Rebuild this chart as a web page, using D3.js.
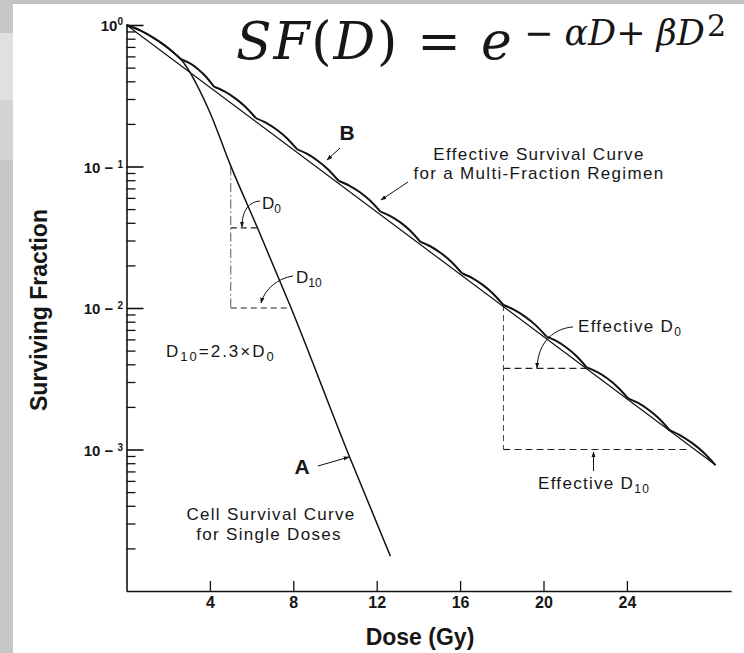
<!DOCTYPE html>
<html>
<head>
<meta charset="utf-8">
<script src="https://cdn.jsdelivr.net/npm/d3@7"></script>
<style>
    html, body { margin: 0; padding: 0; background: #fff; }
    svg { display: block; }
    text { font-family: "Liberation Sans", Arial, sans-serif; fill: #161616; }
</style>
</head>
<body>
<script>
// ! DATA ! //
// curve A: single doses (dose in Gy, surviving fraction)
const doseA = [0, 0.5, 1, 1.5, 2, 2.61, 3.95, 5.0, 6.29, 7.87, 10.7, 12.66];
const sfA = [1, 0.942, 0.859, 0.771, 0.682, 0.573, 0.251, 0.101, 0.0366, 0.0102, 0.000885, 0.000176];

// curve B: ends of each fraction in the multi-fraction regimen
const doseB = [0, 2.61, 4.2, 6.2, 8.19, 10.18, 12.18, 14.09, 16.09, 18.08, 20.15, 22.07, 24.06, 26.05, 28.25];
const sfB = [1, 0.573, 0.366, 0.22, 0.132, 0.079, 0.048, 0.0294, 0.0176, 0.0105, 0.00627, 0.00381, 0.0023, 0.00137, 0.000776];

// shoulder of one fraction: position inside the fraction and lift above the chord (decades)
const shoulderPos = [0, 0.25, 0.5, 0.75, 1];
const shoulderLift = [0, 0.022, 0.03, 0.024, 0];

// D0 / D10 construction lines
const singleGuideDose = [5.0, 6.29, 7.87];
const singleGuideSF = [0.1, 0.0368, 0.01];
const multiGuideDose = [18.08, 22.07, 27.0];
const multiGuideSF = [0.0105, 0.00375, 0.001];

// ticks
const doseTicks = [4, 8, 12, 16, 20, 24];
const decadeTicks = [1, 0.1, 0.01, 0.001];
const decadeExp = ["0", "1", "2", "3"];
const minorMantissa = [2, 3, 4, 5, 6, 7, 8, 9];

// ! LAYOUT ! //
const W = 744, H = 653;
const x = d3.scaleLinear().domain([0, 29]).range([126.5, 126.5 + 29 * 20.85]);
const y = d3.scaleLog().domain([1e-4, 1]).range([591, 25]);

const svg = d3.select("body").append("svg").attr("width", W).attr("height", H);

// ^ page frame (grey scan border) ^ //
svg.append("rect").attr("width", W).attr("height", H).attr("fill", "#fff");
svg.append("rect").attr("x", 0).attr("y", 0).attr("width", W).attr("height", 4).attr("fill", "#c2c2c2");
svg.append("rect").attr("x", 0).attr("y", 0).attr("width", 13).attr("height", H).attr("fill", "#c6c6c6");
svg.append("rect").attr("x", 0).attr("y", 33).attr("width", 13).attr("height", 67).attr("fill", "#e0e0e0");
svg.append("rect").attr("x", 0).attr("y", 100).attr("width", 13).attr("height", 60).attr("fill", "#d4d4d4");

const defs = svg.append("defs");
defs.append("marker")
    .attr("id", "ah")
    .attr("viewBox", "0 0 10 10")
    .attr("refX", 9).attr("refY", 5)
    .attr("markerWidth", 6).attr("markerHeight", 6)
    .attr("orient", "auto")
    .append("path").attr("d", "M0,1.5L10,5L0,8.5Z").attr("fill", "#111");

// ^ X AXIS ^ //
const xAxis = svg.append("g")
    .attr("transform", `translate(0,${y(1e-4)})`)
    .call(d3.axisBottom(x).tickValues(doseTicks).tickSizeInner(-10).tickSizeOuter(0).tickPadding(6));
xAxis.select(".domain").attr("stroke", "#111").attr("stroke-width", 1.7);
xAxis.selectAll(".tick line").attr("stroke", "#111").attr("stroke-width", 1.3);
xAxis.selectAll(".tick text")
    .style("font-family", "'Liberation Sans', Arial, sans-serif")
    .style("font-size", "16px").style("font-weight", "bold").attr("fill", "#161616");

// ^ Y AXIS ^ //
const minorValues = [];
decadeTicks.forEach((dec) => minorMantissa.forEach((m) => minorValues.push(dec * m / 10)));
const yMinor = svg.append("g")
    .attr("transform", `translate(${x(0)},0)`)
    .call(d3.axisLeft(y).tickValues(minorValues).tickSizeInner(-9).tickSizeOuter(0).tickFormat(() => ""));
yMinor.select(".domain").attr("stroke", "#111").attr("stroke-width", 1.6);
yMinor.selectAll(".tick line").attr("stroke", "#111").attr("stroke-width", 1.3);

const yMajor = svg.append("g")
    .attr("transform", `translate(${x(0)},0)`)
    .call(d3.axisLeft(y).tickValues(decadeTicks).tickSizeInner(-17).tickSizeOuter(0).tickFormat(() => ""));
yMajor.select(".domain").remove();
yMajor.selectAll(".tick line").attr("stroke", "#111").attr("stroke-width", 1.6);

decadeTicks.forEach((v, i) => {
    const t = svg.append("text")
        .attr("x", 123).attr("y", y(v) + 6)
        .attr("text-anchor", "end")
        .style("font-size", "15px").style("font-weight", "bold");
    t.append("tspan").text("10");
    if (decadeExp[i] === "0") {
        t.append("tspan").attr("dy", -6).style("font-size", "10px").text("0");
    } else {
        t.append("tspan").text(" − ");
        t.append("tspan").attr("dy", -5).style("font-size", "10px").text(decadeExp[i]);
    }
});

// ^ AXIS TITLES ^ //
svg.append("text")
    .attr("transform", "translate(47,310) rotate(-90)")
    .attr("text-anchor", "middle")
    .style("font-size", "23px").style("font-weight", "bold")
    .text("Surviving Fraction");
svg.append("text")
    .attr("x", 420).attr("y", 645)
    .attr("text-anchor", "middle")
    .style("font-size", "23px").style("font-weight", "bold")
    .text("Dose (Gy)");

// ^ CURVES ^ //
const line = d3.line().x((d) => x(d[0])).y((d) => y(d[1]));

// guides first so curves sit on top
const guide = svg.append("g").attr("fill", "none");
guide.append("path")
    .attr("d", line([[singleGuideDose[0], singleGuideSF[0]], [singleGuideDose[0], singleGuideSF[2]]]))
    .attr("stroke", "#555").attr("stroke-width", 1).attr("stroke-dasharray", "9,3,1.5,3");
guide.append("path")
    .attr("d", line([[singleGuideDose[0], singleGuideSF[1]], [singleGuideDose[1], singleGuideSF[1]]]))
    .attr("stroke", "#222").attr("stroke-width", 1.2).attr("stroke-dasharray", "6,4");
guide.append("path")
    .attr("d", line([[singleGuideDose[0], singleGuideSF[2]], [singleGuideDose[2], singleGuideSF[2]]]))
    .attr("stroke", "#222").attr("stroke-width", 1.2).attr("stroke-dasharray", "6,4");
guide.append("path")
    .attr("d", line([[multiGuideDose[0], multiGuideSF[0]], [multiGuideDose[0], multiGuideSF[2]]]))
    .attr("stroke", "#444").attr("stroke-width", 1).attr("stroke-dasharray", "6,4");
guide.append("path")
    .attr("d", line([[multiGuideDose[0], multiGuideSF[1]], [multiGuideDose[1], multiGuideSF[1]]]))
    .attr("stroke", "#222").attr("stroke-width", 1.2).attr("stroke-dasharray", "7,4");
guide.append("path")
    .attr("d", line([[multiGuideDose[0], multiGuideSF[2]], [multiGuideDose[2], multiGuideSF[2]]]))
    .attr("stroke", "#222").attr("stroke-width", 1.2).attr("stroke-dasharray", "7,4");

// curve A
svg.append("path")
    .attr("d", d3.line().x((d) => x(d[0])).y((d) => y(d[1])).curve(d3.curveMonotoneX)(doseA.map((d, i) => [d, sfA[i]])))
    .attr("fill", "none").attr("stroke", "#111").attr("stroke-width", 1.5);

// curve B: straight effective line
svg.append("path")
    .attr("d", line([[doseB[0], sfB[0]], [doseB[doseB.length - 1], sfB[sfB.length - 1]]]))
    .attr("fill", "none").attr("stroke", "#111").attr("stroke-width", 1.2);

// curve B: one shoulder per fraction
const scallop = d3.line().x((d) => x(d[0])).y((d) => y(d[1])).curve(d3.curveNatural);
for (let i = 0; i < doseB.length - 1; i++) {
    const d0 = doseB[i], d1 = doseB[i + 1];
    const l0 = Math.log10(sfB[i]), l1 = Math.log10(sfB[i + 1]);
    const pts = shoulderPos.map((t, k) => [d0 + t * (d1 - d0), Math.pow(10, l0 + t * (l1 - l0) + shoulderLift[k])]);
    svg.append("path").attr("d", scallop(pts))
        .attr("fill", "none").attr("stroke", "#111").attr("stroke-width", 2);
}

// ^ ANNOTATIONS ^ //
const label = (px, py, parts, opts = {}) => {
    const subSize = opts.sub || 12;
    const t = svg.append("text")
        .attr("x", px).attr("y", py)
        .attr("text-anchor", opts.anchor || "start")
        .style("font-size", (opts.size || 17) + "px")
        .style("letter-spacing", (opts.spacing === undefined ? 1.3 : opts.spacing) + "px")
        .style("font-weight", opts.bold ? "bold" : "normal");
    let shift = 0;
    parts.forEach(([txt, kind]) => {
        const s = t.append("tspan").text(txt);
        const want = kind === "sub" ? 4 : 0;
        if (want !== shift) { s.attr("dy", want - shift); shift = want; }
        if (kind === "sub") s.style("font-size", subSize + "px");
    });
    return t;
};
const arrow = (d, w = 1) => svg.append("path").attr("d", d)
    .attr("fill", "none").attr("stroke", "#111").attr("stroke-width", w).attr("marker-end", "url(#ah)");

label(347, 140, [["B"]], { anchor: "middle", size: 21, bold: true, spacing: 0 });
arrow("M340,148L327,160");
label(539, 160, [["Effective Survival Curve"]], { anchor: "middle" });
label(539, 179, [["for a Multi-Fraction Regimen"]], { anchor: "middle" });
arrow("M408,182L381,200");

label(262, 209, [["D"], ["0", "sub"]], { spacing: 0 });
arrow("M260,201C249,202 242,210 242,227");
label(296, 283, [["D"], ["10", "sub"]], { spacing: 0 });
arrow("M293,276C279,278 265,288 261,303");

label(166, 357, [["D"], ["10", "sub"], ["=2.3×D"], ["0", "sub"]], { spacing: 2, sub: 13 });

label(302, 474, [["A"]], { anchor: "middle", size: 21, bold: true, spacing: 0 });
arrow("M318,466L349,457");
label(271, 520, [["Cell Survival Curve"]], { anchor: "middle" });
label(269, 540, [["for Single Doses"]], { anchor: "middle" });

label(578, 332, [["Effective D"], ["0", "sub"]]);
arrow("M573,327C556,328 538,340 537,368");
label(538, 489, [["Effective D"], ["10", "sub"]]);
arrow("M593.5,471L593.5,452");

// ^ FORMULA (one text, exponent placed with absolute x/y) ^ //
const f = svg.append("text").attr("x", 236).attr("y", 59)
    .style("font-family", "'DejaVu Serif', serif");
[["S", 1], ["F", 1], ["(", 0], ["D", 1], [")", 0], [" = ", 0], ["e", 1]].forEach(([c, it]) =>
    f.append("tspan").style("font-style", it ? "italic" : "normal")
        .style("font-size", "52px").style("letter-spacing", "1.8px").text(c));
f.append("tspan").attr("x", 524).attr("y", 45).style("font-size", "35px").text("− ");
[["α", 1], ["D", 1], ["+ ", 0], ["β", 1], ["D", 1]].forEach(([c, it]) =>
    f.append("tspan").style("font-style", it ? "italic" : "normal").style("font-size", "35px").text(c));
f.append("tspan").attr("x", 707).attr("y", 36).style("font-size", "30px").text("2");
</script>
</body>
</html>
